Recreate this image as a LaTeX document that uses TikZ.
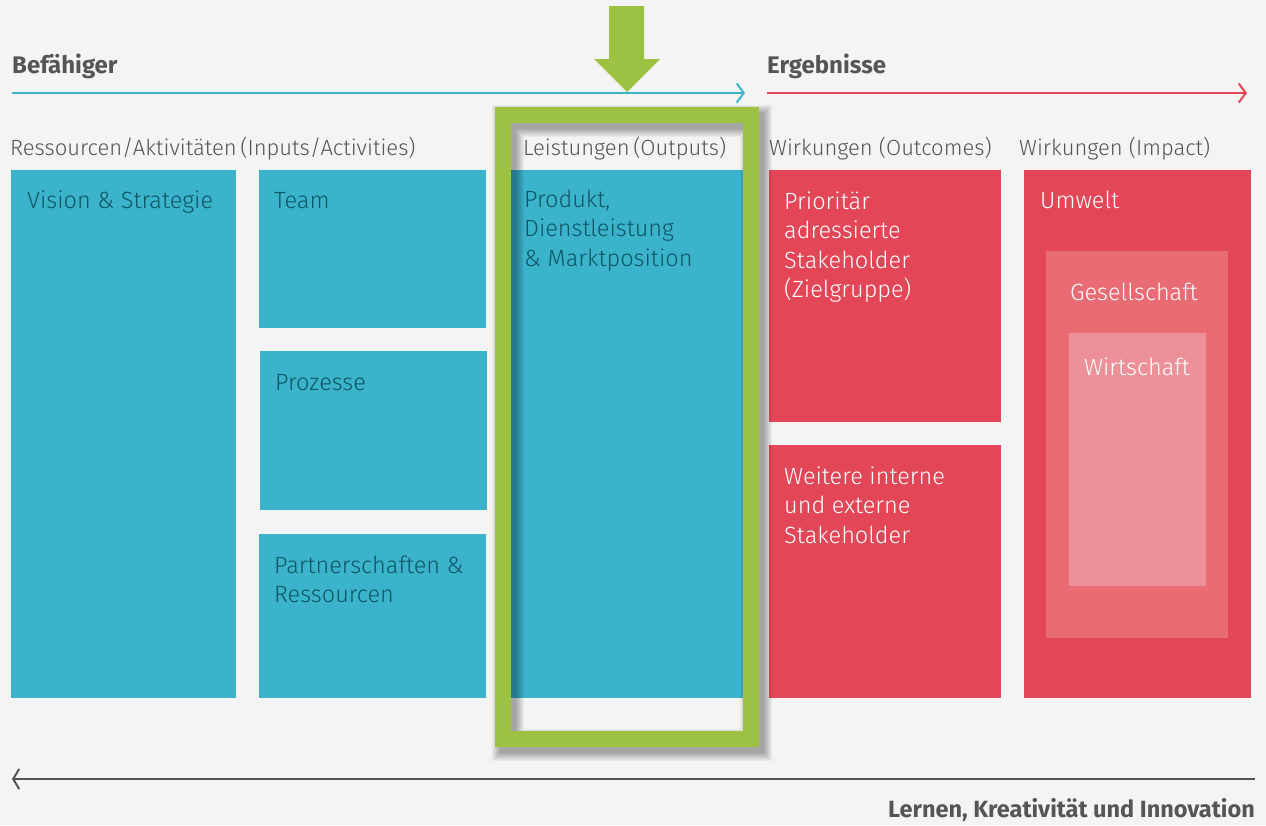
\documentclass[tikz,border=0pt]{standalone}
\usepackage{fontspec}
\setmainfont{Fira Sans}
\newfontfamily\lightfont{Fira Sans Light}
\usetikzlibrary{arrows.meta}

\definecolor{bgcol}{HTML}{F4F4F4}
\definecolor{tealfill}{HTML}{3BB3CB}
\definecolor{cherry}{HTML}{E34656}
\definecolor{cherrymid}{HTML}{E96B73}
\definecolor{cherrylight}{HTML}{EE9097}
\definecolor{limegreen}{HTML}{9DC143}
\definecolor{darkteal}{HTML}{0E5766}
\definecolor{labelgray}{HTML}{555555}

\tikzset{
  box/.style={anchor=north west, inner sep=0pt, outer sep=0pt, draw=none},
  bluebox/.style={box, fill=tealfill},
  redbox/.style={box, fill=cherry},
  % multi-line texts are anchored at the baseline of their last line
  boxtext/.style={anchor=base west, inner sep=0pt, align=left,
    font=\lightfont\fontsize{23.5}{29.5}\selectfont},
  bluetext/.style={boxtext, text=darkteal},
  redtext/.style={boxtext, text=white},
  coltitle/.style={anchor=base west, inner sep=0pt, text=labelgray,
    font=\lightfont\fontsize{22}{24}\selectfont},
  section/.style={anchor=base west, inner sep=0pt, text=labelgray,
    font=\bfseries\fontsize{24}{26}\selectfont},
  flow/.style={line width=2pt, -{Straight Barb[length=7pt, width=19pt, line width=2pt]}},
}

\begin{document}
\begin{tikzpicture}[x=1pt, y=-1pt]
  \fill[bgcol] (0,0) rectangle (1266,825);
  \useasboundingbox (0,0) rectangle (1266,825);

  % section headings and direction arrows
  \node[section] (befaehiger) at (12,73) {Befähiger};
  \node[section] (ergebnisse) at (767,73) {Ergebnisse};
  \coordinate (bstart) at (12,93);
  \coordinate (bend) at (745,93);
  \coordinate (estart) at (767,93);
  \coordinate (eend) at (1247,93);
  \draw[flow, draw=tealfill] (bstart) -- (bend);
  \draw[flow, draw=cherry] (estart) -- (eend);

  % column titles
  \node[coltitle] (t1) at (10,155) {Ressourcen/Aktivitäten\,(Inputs/Activities)};
  \node[coltitle] (t2) at (523,155) {Leistungen\,(Outputs)};
  \node[coltitle] (t3) at (769,155) {Wirkungen (Outcomes)};
  \node[coltitle] (t4) at (1019,155) {Wirkungen (Impact)};

  % enablers
  \node[bluebox, minimum width=225pt, minimum height=528pt] (vision) at (11,170) {};
  \node[bluebox, minimum width=227pt, minimum height=158pt] (team) at (259,170) {};
  \node[bluebox, minimum width=227pt, minimum height=159pt] (prozesse) at (260,351) {};
  \node[bluebox, minimum width=227pt, minimum height=164pt] (partner) at (259,534) {};
  \node[bluebox, minimum width=232pt, minimum height=528pt] (produkt) at (511,170) {};

  % results
  \node[redbox, minimum width=232pt, minimum height=252pt] (prio) at (769,170) {};
  \node[redbox, minimum width=232pt, minimum height=253pt] (weitere) at (769,445) {};
  \node[redbox, minimum width=227pt, minimum height=528pt] (umwelt) at (1024,170) {};
  \node[box, fill=cherrymid, minimum width=182pt, minimum height=387pt] (gesell) at (1046,251) {};
  \node[box, fill=cherrylight, minimum width=137pt, minimum height=253pt] (wirt) at (1069,333) {};

  % box texts
  \node[bluetext] (visiontxt) at (27,208) {Vision \& Strategie};
  \node[bluetext] (teamtxt) at (274,208) {Team};
  \node[bluetext] (prozessetxt) at (275,390) {Prozesse};
  \node[bluetext] (partnertxt) at (274,602.5) {Partnerschaften \&\\Ressourcen};
  \node[bluetext] (produkttxt) at (524,266) {Produkt,\\Dienstleistung\\\& Marktposition};
  \node[redtext] (priotxt) at (784,297.5) {Prioritär\\adressierte\\Stakeholder\\(Zielgruppe)};
  \node[redtext] (weiteretxt) at (784,543) {Weitere interne\\und externe\\Stakeholder};
  \node[redtext] (umwelttxt) at (1040,208) {Umwelt};
  \node[redtext, anchor=base] (geselltxt) at (1134,300) {Gesellschaft};
  \node[redtext, anchor=base] (wirttxt) at (1137,375) {Wirtschaft};

  % soft shadow of the highlight frame
  \foreach \i in {1,...,9}
    \draw[black, opacity=0.04, line width={14+2*\i}] (508,121) rectangle (756,745);
  % highlight frame
  \draw[limegreen, line width=16pt] (503,115) rectangle (751,739);
  \node[inner sep=0pt, outer sep=0pt, minimum width=248pt, minimum height=624pt] (frame) at (627,427) {};

  % pointer arrow onto the frame
  \fill[limegreen] (609,6) -- (644,6) -- (644,59) -- (660,59) -- (627,92)
    -- (594,59) -- (609,59) -- cycle;

  % learning loop
  \coordinate (lstart) at (1255,779);
  \coordinate (lend) at (12,779);
  \draw[labelgray, line width=2.5pt,
    -{Straight Barb[length=6pt, width=20pt, line width=2pt]}] (lstart) -- (lend);
  \node[section, anchor=base east, font=\bfseries\fontsize{23.5}{26}\selectfont]
    (lernen) at (1255,817) {Lernen, Kreativität und Innovation};
\end{tikzpicture}
\end{document}
